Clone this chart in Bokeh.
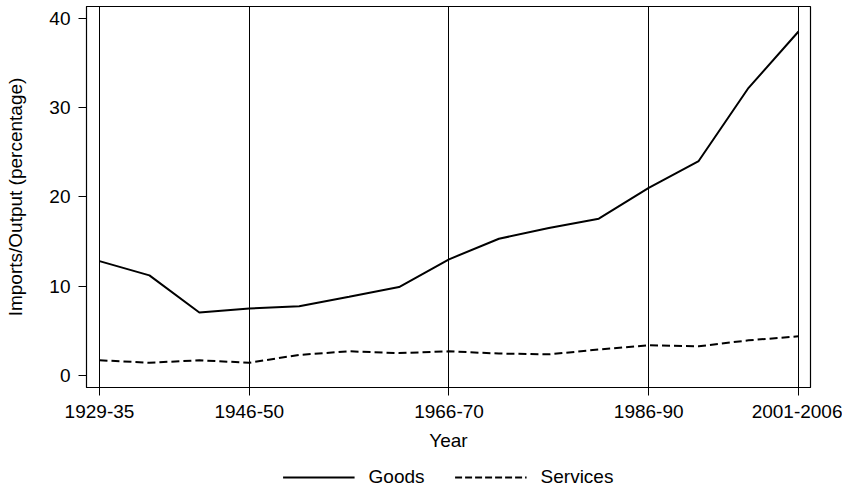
from bokeh.plotting import figure
from bokeh.layouts import column
from bokeh.models import Range1d, FixedTicker, Legend, LegendItem, ColumnDataSource
from bokeh.embed import file_html
from bokeh.resources import INLINE

periods = ["1929-35", "1936-40", "1941-45", "1946-50", "1951-55", "1956-60", "1961-65",
           "1966-70", "1971-75", "1976-80", "1981-85", "1986-90", "1991-95", "1996-2000",
           "2001-2006"]
goods = [12.8, 11.2, 7.05, 7.5, 7.75, 8.8, 9.9, 13.0, 15.3, 16.5, 17.55, 21.0, 24.0, 32.2, 38.5]
services = [1.7, 1.42, 1.7, 1.42, 2.3, 2.7, 2.5, 2.7, 2.45, 2.36, 2.9, 3.37, 3.26, 3.93, 4.38]
tick_labels = ["1929-35", "1946-50", "1966-70", "1986-90", "2001-2006"]
y_ticks = [0, 10, 20, 30, 40]

x = list(range(len(periods)))
tick_pos = [periods.index(t) for t in tick_labels]

src = ColumnDataSource(dict(x=x, goods=goods, services=services))

FONT = "Liberation Sans"

p = figure(width=842, height=453, output_backend="svg", toolbar_location=None,
           x_range=Range1d(-0.26, 14.24), y_range=Range1d(-1.35, 41.3),
           min_border_left=86, min_border_right=32, min_border_top=6, min_border_bottom=4,
           background_fill_color="white", border_fill_color="white")

p.outline_line_color = "black"
p.outline_line_width = 1.2

p.xaxis.ticker = FixedTicker(ticks=tick_pos)
p.xaxis.major_label_overrides = {i: periods[i] for i in tick_pos}
p.yaxis.ticker = FixedTicker(ticks=y_ticks)
for ax in (p.xaxis[0], p.yaxis[0]):
    ax.major_label_text_font = FONT
    ax.major_label_text_font_size = "19px"
    ax.major_label_text_color = "black"
    ax.axis_label_text_font = FONT
    ax.axis_label_text_font_size = "19px"
    ax.axis_label_text_font_style = "normal"
    ax.axis_label_text_color = "black"
    ax.axis_line_color = "black"
    ax.major_tick_line_color = "black"
    ax.major_tick_out = 8
    ax.major_tick_in = 0
    ax.minor_tick_line_color = None
p.xaxis.axis_label = "Year"
p.yaxis.axis_label = "Imports/Output (percentage)"
p.yaxis.major_label_orientation = "horizontal"
p.xaxis.major_label_standoff = 9
p.yaxis.major_label_standoff = 8
p.xaxis.axis_label_standoff = 9
p.yaxis.axis_label_standoff = 20

p.xgrid.ticker = FixedTicker(ticks=tick_pos)
p.xgrid.grid_line_color = "black"
p.xgrid.grid_line_width = 1
p.ygrid.grid_line_color = None

p.line("x", "goods", source=src, line_color="black", line_width=2)
p.line("x", "services", source=src, line_color="black", line_width=2, line_dash="8 4")

# legend strip
lg = figure(width=842, height=35, output_backend="svg", toolbar_location=None,
            x_range=Range1d(0, 1), y_range=Range1d(0, 1),
            min_border=0, outline_line_color=None,
            background_fill_color="white", border_fill_color="white")
lg.xaxis.visible = False
lg.yaxis.visible = False
lg.grid.visible = False
e = ColumnDataSource(dict(x=[-10, -9], y=[-10, -9]))
d1 = lg.line("x", "y", source=e, line_color="black", line_width=2)
d2 = lg.line("x", "y", source=e, line_color="black", line_width=2, line_dash="7 3")
legend = Legend(items=[LegendItem(label="Goods", renderers=[d1]),
                       LegendItem(label="Services", renderers=[d2])],
                orientation="horizontal", location="bottom_center",
                label_text_font=FONT, label_text_font_size="19px", label_text_color="black",
                glyph_width=72, label_standoff=14, spacing=30,
                border_line_color=None, background_fill_alpha=0,
                margin=0, padding=2)
lg.add_layout(legend, "center")

layout = column(p, lg, spacing=0)
open("out.html", "w").write(file_html(layout, INLINE))
